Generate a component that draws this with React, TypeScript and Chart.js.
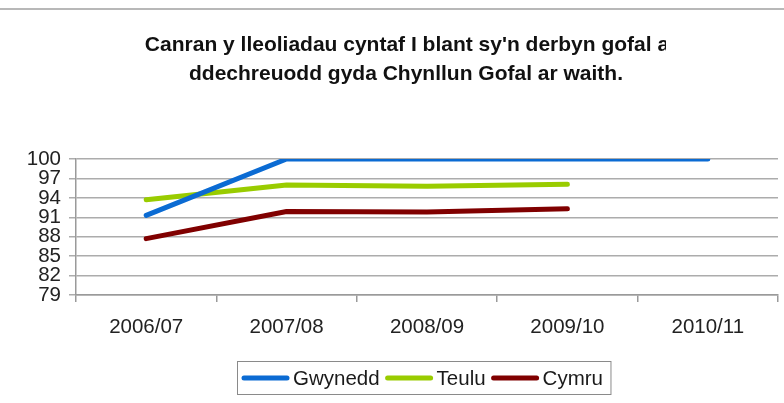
import React, { useEffect, useRef } from "react";
import { Chart, registerables } from "chart.js";

Chart.register(...registerables);

const titleLines = [
  "Canran y lleoliadau cyntaf I blant sy'n derbyn gofal a",
  "ddechreuodd gyda Chynllun Gofal ar waith.",
];
const categories = ["2006/07", "2007/08", "2008/09", "2009/10", "2010/11"];
const gwynedd = [91.3, 100, 100, 100, 100];
const teulu = [93.7, 96.0, 95.8, 96.1, null];
const cymru = [87.7, 91.9, 91.8, 92.3, null];
const seriesNames = ["Gwynedd", "Teulu", "Cymru"];
const seriesColors = ["#0b6bd3", "#99cc00", "#800000"];
const yMin = 79;
const yMax = 100;
const yStep = 3;

const FONT = "'Liberation Sans', Arial, sans-serif";

const decorPlugin = {
  id: "decor",
  afterDraw(chart: any) {
    const ctx = chart.ctx;
    ctx.save();
    // top frame line
    ctx.strokeStyle = "#a0a0a0";
    ctx.lineWidth = 1.5;
    ctx.beginPath();
    ctx.moveTo(0, 9);
    ctx.lineTo(chart.width, 9);
    ctx.stroke();

    // title
    ctx.fillStyle = "#111";
    ctx.font = `bold 21px ${FONT}`;
    ctx.textAlign = "center";
    ctx.textBaseline = "middle";
    ctx.save();
    ctx.beginPath();
    ctx.rect(0, 0, 666, chart.height);
    ctx.clip();
    ctx.fillText(titleLines[0], 407, 45);
    ctx.restore();
    ctx.fillText(titleLines[1], 406, 74);

    // legend
    ctx.font = `20.5px ${FONT}`;
    ctx.textAlign = "left";
    const cy = 378;
    let x = 242;
    const startX = x;
    chart.data.datasets.forEach((ds: any) => {
      ctx.strokeStyle = ds.borderColor;
      ctx.lineWidth = 5;
      ctx.lineCap = "round";
      ctx.beginPath();
      ctx.moveTo(x + 2, cy);
      ctx.lineTo(x + 45, cy);
      ctx.stroke();
      ctx.fillStyle = "#1a1a1a";
      ctx.fillText(ds.label, x + 51, cy + 1);
      const w = ctx.measureText(ds.label).width;
      x = x + 51 + w + 6;
    });
    ctx.strokeStyle = "#8a8a8a";
    ctx.lineWidth = 1;
    ctx.lineCap = "butt";
    ctx.strokeRect(startX - 4.5, 361.5, x - 6 + 8 - (startX - 4.5), 33);
    ctx.restore();
  },
};

export default function App() {
  const ref = useRef<HTMLCanvasElement>(null);
  useEffect(() => {
    if (!ref.current) return;
    const data = [gwynedd, teulu, cymru];
    const chart = new Chart(ref.current, {
      type: "line",
      data: {
        labels: categories,
        datasets: seriesNames.map((name, i) => ({
          label: name,
          data: data[i],
          borderColor: seriesColors[i],
          backgroundColor: seriesColors[i],
          borderWidth: 5,
          borderCapStyle: "round",
          borderJoinStyle: "round",
          pointRadius: 0,
          tension: 0,
          spanGaps: false,
        })),
      },
      options: {
        responsive: false,
        animation: false,
        layout: { padding: { top: 159, right: 6, left: 0, bottom: 0 } },
        plugins: {
          legend: { display: false },
          title: { display: false },
          tooltip: { enabled: false },
        },
        scales: {
          x: {
            offset: true,
            grid: {
              offset: true,
              drawOnChartArea: false,
              drawTicks: true,
              tickLength: 7,
              color: "#9a9a9a",
              lineWidth: 1.5,
            },
            border: { color: "#9a9a9a", width: 1.5 },
            ticks: {
              color: "#222",
              font: { family: FONT, size: 20.5 },
              padding: 13,
              maxRotation: 0,
              autoSkip: false,
            },
            afterFit(scale: any) {
              scale.height = 108;
            },
          },
          y: {
            min: yMin,
            max: yMax,
            grid: {
              color: "#acacac",
              lineWidth: 1.5,
              tickLength: 7,
            },
            border: { color: "#9a9a9a", width: 1.5 },
            ticks: {
              stepSize: yStep,
              autoSkip: false,
              color: "#222",
              font: { family: FONT, size: 20.5 },
              padding: 8,
            },
            afterFit(scale: any) {
              scale.width = 76;
            },
          },
        },
      },
      plugins: [decorPlugin],
    });
    return () => chart.destroy();
  }, []);
  return (
    <div style={{ position: "fixed", left: 0, top: 0, width: 784, height: 403, background: "#fff" }}>
      <canvas ref={ref} width={784} height={403} style={{ display: "block" }} />
    </div>
  );
}
